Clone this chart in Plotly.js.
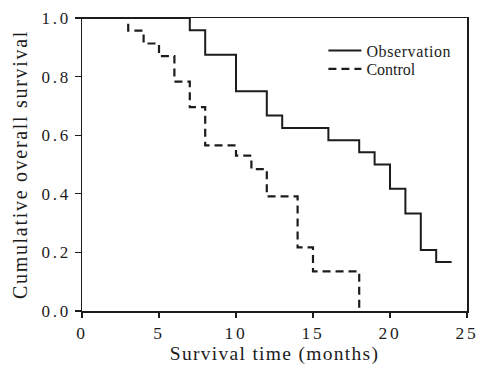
<!DOCTYPE html>
<html><head><meta charset="utf-8">
<script src="https://cdn.plot.ly/plotly-3.0.1.min.js"></script>
<style>
html,body{margin:0;padding:0;background:#fff}
#chart{width:479px;height:365px}
#chart .xtick text,#chart .ytick text{letter-spacing:2.8px}
#chart text.xtitle{letter-spacing:1.3px}
#chart text.ytitle{letter-spacing:1.7px}
#chart text.legendtext{letter-spacing:0.6px}
</style>
</head><body><div id="chart"></div>
<script>
const obsTime = [0, 7, 8, 10, 12, 13, 16, 18, 19, 20, 21, 22, 23, 24];
const obsSurv = [1.0, 0.958, 0.875, 0.75, 0.667, 0.625, 0.583, 0.542, 0.5, 0.417, 0.333, 0.208, 0.167, 0.167];
const ctlTime = [0, 3, 4, 5, 6, 7, 8, 10, 11, 12, 14, 15, 18];
const ctlSurv = [1.0, 0.957, 0.913, 0.870, 0.783, 0.696, 0.565, 0.530, 0.484, 0.391, 0.217, 0.135, 0.0];
const xTicks = [0, 5, 10, 15, 20, 25];
const yTicks = [0, 0.2, 0.4, 0.6, 0.8, 1.0];

const font = "Liberation Serif, Times New Roman, serif";
const ink = "#1c1c1c";
const legendBase = {x: 0.627, xanchor: "left", yanchor: "top", font: {family: font, size: 16, color: ink}, bgcolor: "rgba(0,0,0,0)", itemwidth: 33};
const traces = [
  {x: obsTime, y: obsSurv, name: "Observation", mode: "lines", legend: "legend", line: {shape: "hv", color: ink, width: 2}},
  {x: ctlTime, y: ctlSurv, name: "Control", mode: "lines", legend: "legend2", line: {shape: "hv", color: ink, width: 2.2, dash: "8px,5px"}}
];
const layout = {
  width: 479, height: 365,
  margin: {l: 82, r: 12, t: 18, b: 54},
  paper_bgcolor: "#fff", plot_bgcolor: "#fff",
  font: {family: font, size: 16, color: ink},
  showlegend: true,
  legend: Object.assign({}, legendBase, {y: 0.947}),
  legend2: Object.assign({}, legendBase, {y: 0.884}),
  xaxis: {range: [0, 25], tickvals: xTicks, ticktext: xTicks.map(String), ticks: "outside", ticklen: 5, tickwidth: 1.3, tickcolor: ink,
    showline: true, mirror: true, linecolor: ink, linewidth: 1.5, showgrid: false, zeroline: false,
    tickfont: {family: font, size: 17.5, color: ink}, title: {text: "Survival time (months)", font: {family: font, size: 19.5, color: ink}, standoff: 10}},
  yaxis: {range: [0, 1], tickvals: yTicks, ticktext: yTicks.map(v => v.toFixed(1)), ticks: "outside", ticklen: 6, tickwidth: 1.3, tickcolor: ink,
    showline: true, mirror: true, linecolor: ink, linewidth: 1.5, showgrid: false, zeroline: false,
    tickfont: {family: font, size: 17, color: ink}, title: {text: "Cumulative overall survival", font: {family: font, size: 20, color: ink}, standoff: 17}}
};
Plotly.newPlot("chart", traces, layout, {staticPlot: true, displayModeBar: false});
</script></body></html>
